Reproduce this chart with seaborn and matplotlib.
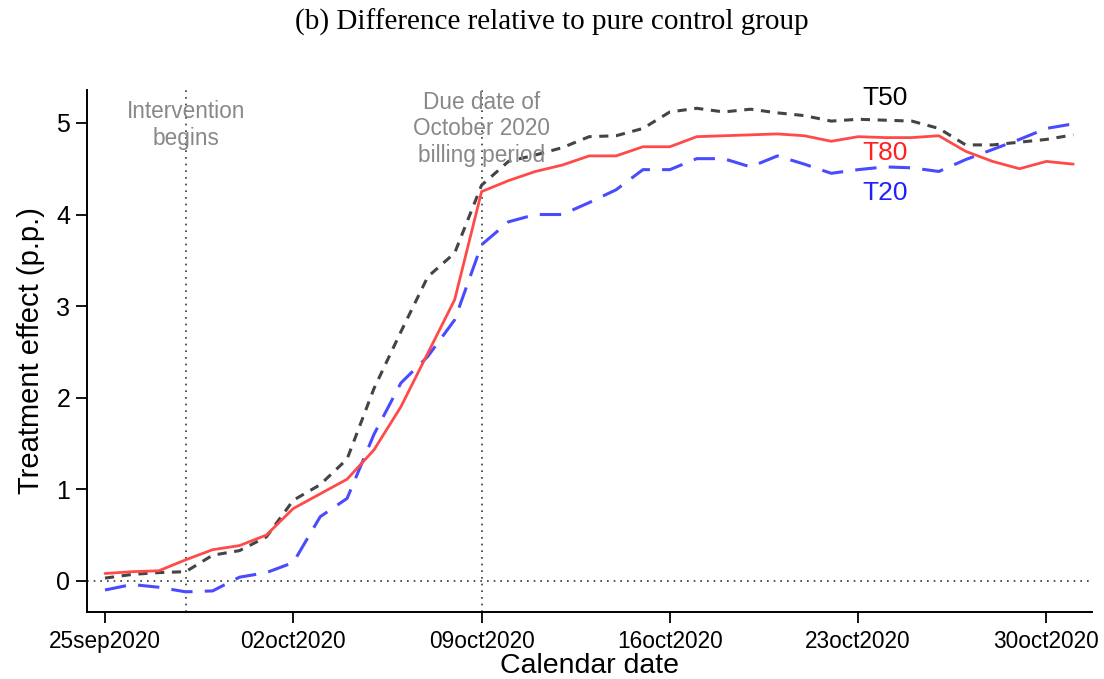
import numpy as np
import pandas as pd
import matplotlib
matplotlib.use("Agg")
import matplotlib.pyplot as plt
import seaborn as sns

# ---- data ----
days = list(range(37))  # day 0 = 25sep2020
t80 = [0.08, 0.10, 0.11, 0.23, 0.34, 0.385, 0.50, 0.79, 0.95, 1.11, 1.43, 1.90, 2.485,
       3.07, 4.25, 4.37, 4.47, 4.54, 4.64, 4.64, 4.74, 4.74, 4.85, 4.86, 4.87, 4.88,
       4.86, 4.80, 4.85, 4.84, 4.84, 4.86, 4.69, 4.58, 4.50, 4.58, 4.55]
t50 = [0.03, 0.07, 0.09, 0.10, 0.28, 0.33, 0.48, 0.88, 1.05, 1.33, 2.10, 2.72, 3.32,
       3.58, 4.32, 4.58, 4.65, 4.73, 4.85, 4.86, 4.94, 5.12, 5.16, 5.12, 5.15, 5.11,
       5.08, 5.02, 5.04, 5.03, 5.02, 4.94, 4.76, 4.76, 4.79, 4.82, 4.87]
t20 = [-0.10, -0.04, -0.07, -0.12, -0.11, 0.04, 0.09, 0.20, 0.70, 0.90, 1.60, 2.16, 2.45,
       2.85, 3.67, 3.92, 4.00, 4.00, 4.13, 4.27, 4.49, 4.49, 4.61, 4.61, 4.52, 4.64,
       4.55, 4.45, 4.49, 4.52, 4.51, 4.47, 4.60, 4.71, 4.82, 4.94, 4.99]
tick_days = [0, 7, 14, 21, 28, 35]
tick_labels = ["25sep2020", "02oct2020", "09oct2020", "16oct2020", "23oct2020", "30oct2020"]
y_ticks = [0, 1, 2, 3, 4, 5]
event_days = [3, 14]
event_labels = ["Intervention\nbegins", "Due date of\nOctober 2020\nbilling period"]
title = "(b) Difference relative to pure control group"

sns.set_theme(style="ticks")
plt.rcParams['font.family'] = ['Liberation Sans', 'DejaVu Sans']
plt.rcParams.update({"text.color": "black", "axes.labelcolor": "black",
                     "xtick.color": "black", "ytick.color": "black"})

fig = plt.figure(figsize=(11.04, 6.79), dpi=100)
ax = fig.add_axes([0.0788, 0.0987, 0.9102, 0.7688])

df = pd.DataFrame({"day": days, "T80": t80, "T50": t50, "T20": t20})

ax.axhline(0, color="#333333", lw=1.2, ls=(0, (1, 3)), zorder=1)
for d in event_days:
    ax.axvline(d, color="#333333", lw=1.2, ls=(0, (1, 3)), zorder=1)

sns.lineplot(data=df, x="day", y="T50", ax=ax, color="#444444", lw=2.2, zorder=3)
ax.lines[-1].set_dashes([3, 2.5])
sns.lineplot(data=df, x="day", y="T20", ax=ax, color="#4a4aff", lw=2.2, zorder=3)
ax.lines[-1].set_dashes([7, 4])
sns.lineplot(data=df, x="day", y="T80", ax=ax, color="#ff4a4a", lw=2.0, zorder=4)

ax.set_xlim(-0.67, 36.69)
ax.set_ylim(-0.34, 5.36)
ax.set_xticks(tick_days)
ax.set_xticklabels(tick_labels, fontsize=16.3)
ax.set_yticks(y_ticks)
ax.set_yticklabels([str(v) for v in y_ticks], fontsize=18)
ax.tick_params(axis="both", direction="out", length=8, width=1.3, color="black")
ax.tick_params(axis="x", pad=5)
ax.tick_params(axis="y", pad=4)
ax.set_xlabel("Calendar date", fontsize=20.5, labelpad=0)
ax.set_ylabel("Treatment effect (p.p.)", fontsize=21, labelpad=8)
sns.despine(ax=ax)
for s in ["left", "bottom"]:
    ax.spines[s].set_linewidth(1.4)
    ax.spines[s].set_color("black")

ax.text(3, 5.25, event_labels[0], ha="center", va="top", fontsize=16.3,
        color="#888888", linespacing=1.2, zorder=5)
ax.text(14, 5.35, event_labels[1], ha="center", va="top", fontsize=16.3,
        color="#888888", linespacing=1.2, zorder=5)

ax.text(29.0, 5.27, "T50", ha="center", va="center", fontsize=19, color="black")
ax.text(29.0, 4.67, "T80", ha="center", va="center", fontsize=19, color="#ff2020")
ax.text(29.0, 4.23, "T20", ha="center", va="center", fontsize=19, color="#2020ff")

fig.text(0.5, 0.967, title, ha="center", va="center", fontsize=21,
         family=["Liberation Serif", "DejaVu Serif"])

fig.savefig("out.png", dpi=100)
